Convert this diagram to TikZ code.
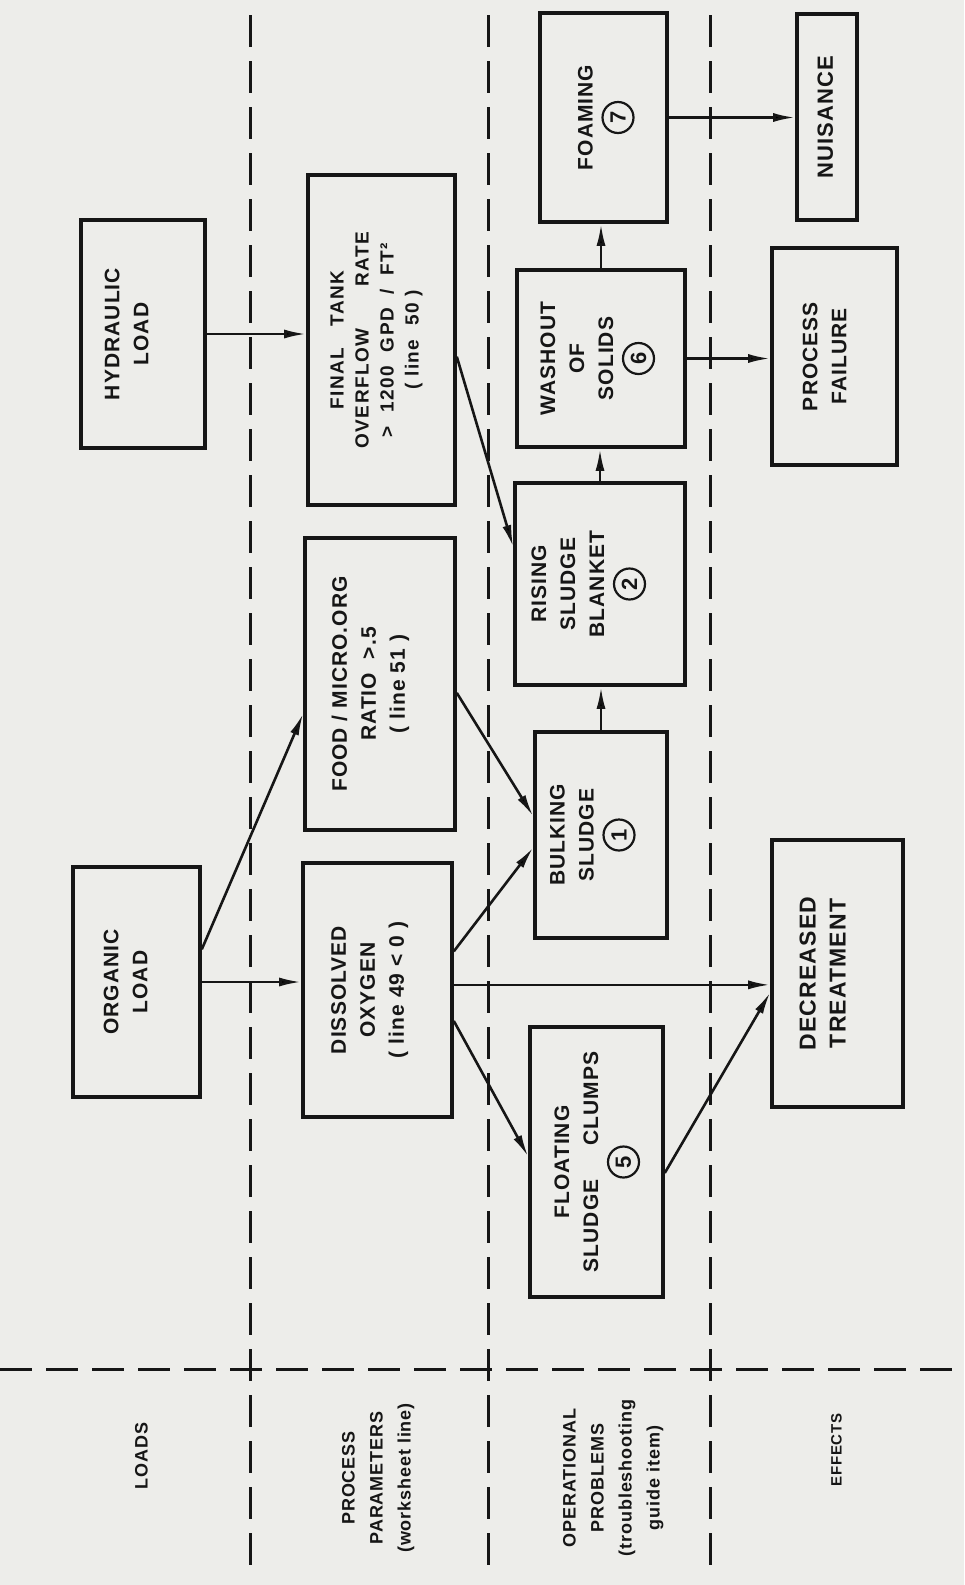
\documentclass[tikz,border=0pt]{standalone}
\usepackage{fontspec}
\usepackage{graphicx}
\setmainfont{Liberation Sans}[LetterSpace=5]
\usetikzlibrary{arrows.meta,calc}
\definecolor{paper}{RGB}{237,237,234}
\definecolor{ink}{RGB}{22,22,22}
\newcommand\vtext[2][0pt]{\rotatebox{90}{\begin{tabular}{@{}c@{}}#2\end{tabular}}\hspace*{#1}}
\newcommand\cnum[1]{\tikz[baseline=(cn.base)]\node[draw=ink,circle,line width=1.1pt,inner sep=0pt,minimum size=15.5pt,font=\bfseries\fontsize{11}{13}\selectfont](cn){#1};}
\begin{document}
\begin{tikzpicture}[x=0.5pt,y=-0.5pt,
  box/.style={draw=ink,line width=1.8pt,rectangle,inner sep=0pt,text=ink,font=\bfseries\fontsize{10.5}{14.5}\selectfont},
  lbl/.style={inner sep=0pt,text=ink,font=\bfseries\fontsize{9}{14}\selectfont},
  arr/.style={draw=ink,line width=1.3pt,-{Latex[length=11pt,width=4.5pt]}},
  sep/.style={draw=ink,line width=1.5pt,dash pattern=on 16pt off 7pt}]
\fill[paper] (0,0) rectangle (964,1585);
\useasboundingbox (0,0) rectangle (964,1585);

% lane separators
\draw[sep] (250,15) -- (250,1575);
\draw[sep] (488,15) -- (488,1575);
\draw[sep] (710,15) -- (710,1575);
\draw[sep] (0,1369) -- (964,1369);

% loads
\node[box,minimum width=62pt,minimum height=114pt] (hyd) at (143,334) {\vtext[15pt]{HYDRAULIC\\LOAD}};
\node[box,minimum width=63.5pt,minimum height=115pt] (org) at (136.5,982) {\vtext[9.5pt]{ORGANIC\\LOAD}};

% process parameters
\node[box,minimum width=73.5pt,minimum height=165pt,font=\bfseries\fontsize{9.5}{12.5}\selectfont\addfontfeatures{LetterSpace=8}] (ft) at (381.5,340)
  {\vtext[5.5pt]{FINAL\hspace{1.1em}TANK\\OVERFLOW\hspace{2.2em}RATE\\>\ \ 1200\ \ GPD\ \ /\ \ FT²\\(\ line\ \ 50\ )}};
\node[box,minimum width=75pt,minimum height=146pt] (food) at (380,684)
  {\vtext[10pt]{FOOD / MICRO.ORG\\RATIO\ \ >.5\\( line 51 )}};
\node[box,minimum width=74.5pt,minimum height=127pt] (do) at (377.5,990)
  {\vtext[8.5pt]{DISSOLVED\\OXYGEN\\( line 49 < 0 )}};

% operational problems
\node[box,minimum width=63.5pt,minimum height=104.5pt] (foam) at (603.5,117.5) {\vtext{FOAMING\\\cnum{7}}};
\node[box,minimum width=84pt,minimum height=88.5pt] (wash) at (601,358.5) {\vtext[6pt]{WASHOUT\\OF\\SOLIDS\\\cnum{6}}};
\node[box,minimum width=85pt,minimum height=101pt] (rise) at (600,584) {\vtext[14pt]{RISING\\SLUDGE\\BLANKET\\\cnum{2}}};
\node[box,minimum width=66pt,minimum height=103pt] (bulk) at (601,835) {\vtext[11pt]{BULKING\\SLUDGE\\\cnum{1}}};
\node[box,minimum width=66.5pt,minimum height=135pt] (float) at (596.5,1162) {\vtext[2pt]{FLOATING\\SLUDGE\hspace{1.6em}CLUMPS\\\cnum{5}}};

% effects
\node[box,minimum width=30pt,minimum height=103pt,font=\bfseries\fontsize{11}{14.5}\selectfont] (nui) at (827,117) {\vtext{NUISANCE}};
\node[box,minimum width=62.5pt,minimum height=108.5pt] (pf) at (834.5,356.5) {\vtext[8.5pt]{PROCESS\\FAILURE}};
\node[box,minimum width=65.5pt,minimum height=133.5pt,font=\bfseries\fontsize{11.5}{15}\selectfont] (dec) at (837.5,973.5) {\vtext[13pt]{DECREASED\\TREATMENT}};

% lane labels
\node[lbl] (lloads) at (142,1456) {\vtext{LOADS}};
\node[lbl] (lproc) at (377,1478) {\vtext{PROCESS\\PARAMETERS\\(worksheet line)}};
\node[lbl] (lop) at (612,1478) {\vtext{OPERATIONAL\\PROBLEMS\\(troubleshooting\\guide item)}};
\node[lbl,font=\bfseries\fontsize{7.5}{14}\selectfont] (leff) at (836,1450) {\vtext{EFFECTS}};

% connectors
\coordinate (orgA) at ($(org.north east)!0.36!(org.south east)$);
\coordinate (foodIn) at ($(food.north west)!0.60!(food.south west)$);
\coordinate (foodOut) at ($(food.north east)!0.53!(food.south east)$);
\coordinate (bulkA) at ($(bulk.north west)!0.41!(bulk.south west)$);
\coordinate (bulkB) at ($(bulk.north west)!0.56!(bulk.south west)$);
\coordinate (ftOut) at ($(ft.north east)!0.55!(ft.south east)$);
\coordinate (riseIn) at ($(rise.north west)!0.32!(rise.south west)$);
\coordinate (doA) at ($(do.north east)!0.35!(do.south east)$);
\coordinate (doB) at ($(do.north east)!0.48!(do.south east)$);
\coordinate (doC) at ($(do.north east)!0.62!(do.south east)$);
\coordinate (floatIn) at ($(float.north west)!0.48!(float.south west)$);
\coordinate (floatOut) at ($(float.north east)!0.54!(float.south east)$);
\coordinate (decIn) at ($(dec.north west)!0.57!(dec.south west)$);

\draw[arr] (hyd.east) -- (hyd.east -| ft.west);
\draw[arr] (org.east) -- (org.east -| do.west);
\draw[arr] (orgA) -- (foodIn);
\draw[arr] (foodOut) -- (bulkA);
\draw[arr] (ftOut) -- (riseIn);
\draw[arr] (doA) -- (bulkB);
\draw[arr] (doC) -- (floatIn);
\draw[arr] (doB) -- (doB -| dec.west);
\draw[arr] (floatOut) -- (decIn);
\draw[arr] (bulk.north) -- (bulk.north |- rise.south);
\draw[arr] (rise.north) -- (rise.north |- wash.south);
\draw[arr] (wash.north) -- (wash.north |- foam.south);
\draw[arr] (wash.east) -- (wash.east -| pf.west);
\draw[arr] (foam.east) -- (foam.east -| nui.west);
\end{tikzpicture}
\end{document}
